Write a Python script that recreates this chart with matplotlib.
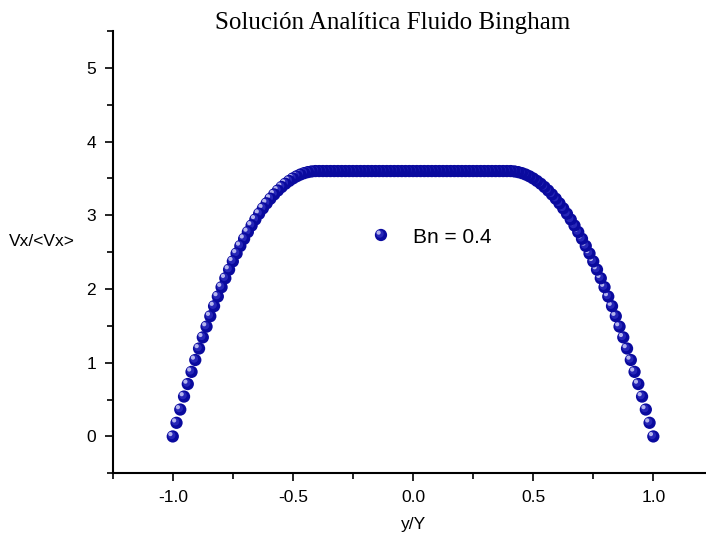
import matplotlib
matplotlib.use("Agg")
import matplotlib.pyplot as plt
from matplotlib.transforms import offset_copy
from matplotlib.ticker import MultipleLocator

# Data (Bingham plug-flow profile, Bn = 0.4)
y_pos = [-1.0, -0.9844, -0.9688, -0.9531, -0.9375, -0.9219, -0.9063, -0.8906,
         -0.875, -0.8594, -0.8438, -0.8281, -0.8125, -0.7969, -0.7813, -0.7656,
         -0.75, -0.7344, -0.7188, -0.7031, -0.6875, -0.6719, -0.6563, -0.6406,
         -0.625, -0.6094, -0.5938, -0.5781, -0.5625, -0.5469, -0.5313, -0.5156,
         -0.5, -0.4844, -0.4688, -0.4531, -0.4375, -0.4219, -0.4063, -0.3906,
         -0.375, -0.3594, -0.3438, -0.3281, -0.3125, -0.2969, -0.2813, -0.2656,
         -0.25, -0.2344, -0.2188, -0.2031, -0.1875, -0.1719, -0.1563, -0.1406,
         -0.125, -0.1094, -0.0938, -0.0781, -0.0625, -0.0469, -0.0313, -0.0156,
         0.0,
         0.0156, 0.0313, 0.0469, 0.0625, 0.0781, 0.0938, 0.1094, 0.125,
         0.1406, 0.1563, 0.1719, 0.1875, 0.2031, 0.2188, 0.2344, 0.25,
         0.2656, 0.2813, 0.2969, 0.3125, 0.3281, 0.3438, 0.3594, 0.375,
         0.3906, 0.4063, 0.4219, 0.4375, 0.4531, 0.4688, 0.4844, 0.5,
         0.5156, 0.5313, 0.5469, 0.5625, 0.5781, 0.5938, 0.6094, 0.625,
         0.6406, 0.6563, 0.6719, 0.6875, 0.7031, 0.7188, 0.7344, 0.75,
         0.7656, 0.7813, 0.7969, 0.8125, 0.8281, 0.8438, 0.8594, 0.875,
         0.8906, 0.9063, 0.9219, 0.9375, 0.9531, 0.9688, 0.9844, 1.0]

vx_ratio = [0.0, 0.185, 0.365, 0.541, 0.711, 0.876, 1.037, 1.193,
            1.344, 1.490, 1.631, 1.767, 1.898, 2.025, 2.146, 2.263,
            2.375, 2.482, 2.584, 2.681, 2.773, 2.861, 2.943, 3.021,
            3.094, 3.162, 3.225, 3.283, 3.336, 3.384, 3.428, 3.466,
            3.5, 3.529, 3.553, 3.572, 3.586, 3.595, 3.600, 3.6,
            3.6, 3.6, 3.6, 3.6, 3.6, 3.6, 3.6, 3.6,
            3.6, 3.6, 3.6, 3.6, 3.6, 3.6, 3.6, 3.6,
            3.6, 3.6, 3.6, 3.6, 3.6, 3.6, 3.6, 3.6,
            3.6,
            3.6, 3.6, 3.6, 3.6, 3.6, 3.6, 3.6, 3.6,
            3.6, 3.6, 3.6, 3.6, 3.6, 3.6, 3.6, 3.6,
            3.6, 3.6, 3.6, 3.6, 3.6, 3.6, 3.6, 3.6,
            3.6, 3.600, 3.595, 3.586, 3.572, 3.553, 3.529, 3.5,
            3.466, 3.428, 3.384, 3.336, 3.283, 3.225, 3.162, 3.094,
            3.021, 2.943, 2.861, 2.773, 2.681, 2.584, 2.482, 2.375,
            2.263, 2.146, 2.025, 1.898, 1.767, 1.631, 1.490, 1.344,
            1.193, 1.037, 0.876, 0.711, 0.541, 0.365, 0.185, 0.0]

series_label = "Bn = 0.4"
title = "Solución Analítica Fluido Bingham"
xlabel = "y/Y"
ylabel = "Vx/<Vx>"

BALL = '#0A0A9E'
HIGH = '#C4C4F4'
MID = '#3A3AC8'

plt.rcParams['font.family'] = ['Liberation Sans', 'DejaVu Sans']

fig = plt.figure(figsize=(7.06, 5.42), dpi=100)
ax = fig.add_axes([112.7 / 706, (542 - 473.3) / 542, 600.7 / 706, 442.3 / 542])

mid_tr = offset_copy(ax.transData, fig=fig, x=-0.8, y=0.8, units='points')
hl_tr = offset_copy(ax.transData, fig=fig, x=-1.7, y=1.7, units='points')
z = 3
# drawn from right to left, each ball covering the previous one's highlight
for xv, yv in zip(reversed(y_pos), reversed(vx_ratio)):
    ax.scatter([xv], [yv], s=78, color=BALL, edgecolors='none', zorder=z)
    ax.scatter([xv], [yv], s=30, color=MID, edgecolors='none', alpha=0.6,
               zorder=z + 0.1, transform=mid_tr)
    ax.scatter([xv], [yv], s=9, color=HIGH, edgecolors='none', alpha=0.9,
               zorder=z + 0.2, transform=hl_tr)
    z += 0.5

ax.set_xlim(-1.25, 1.25)
ax.set_ylim(-0.5, 5.5)
ax.xaxis.set_major_locator(MultipleLocator(0.5))
ax.xaxis.set_minor_locator(MultipleLocator(0.25))
ax.yaxis.set_major_locator(MultipleLocator(1))
ax.yaxis.set_minor_locator(MultipleLocator(0.5))
ax.xaxis.set_major_formatter(plt.FuncFormatter(lambda v, p: f"{v:.1f}"))

for s in ['top', 'right']:
    ax.spines[s].set_visible(False)
for s in ['left', 'bottom']:
    ax.spines[s].set_linewidth(1.5)

ax.tick_params(which='major', direction='out', length=6, width=1.2,
               labelsize=12.5, pad=6)
ax.tick_params(which='minor', direction='out', length=4, width=1.2)

ax.set_xlabel(xlabel, fontsize=12.5, labelpad=9)
ax.set_ylabel(ylabel, fontsize=12.5, rotation=0)
ax.yaxis.set_label_coords(-0.118, 0.506)

fig.text(392.5 / 706, 1 - 23 / 542, title, ha='center', va='center',
         fontsize=18, family=['Liberation Serif', 'DejaVu Serif'])

# Legend (no frame): a single ball followed by the series label
lx, ly = 0.4466, 0.5388
lmid = offset_copy(ax.transAxes, fig=fig, x=-0.8, y=0.8, units='points')
lhl = offset_copy(ax.transAxes, fig=fig, x=-1.7, y=1.7, units='points')
ax.scatter([lx], [ly], s=78, color=BALL, edgecolors='none', zorder=200,
           transform=ax.transAxes, clip_on=False)
ax.scatter([lx], [ly], s=30, color=MID, edgecolors='none', alpha=0.6,
           zorder=201, transform=lmid, clip_on=False)
ax.scatter([lx], [ly], s=9, color=HIGH, edgecolors='none', alpha=0.9,
           zorder=202, transform=lhl, clip_on=False)
ax.text(0.4999, 0.534, series_label, transform=ax.transAxes, fontsize=15,
        ha='left', va='center', zorder=203)

fig.savefig("out.png", dpi=100)
